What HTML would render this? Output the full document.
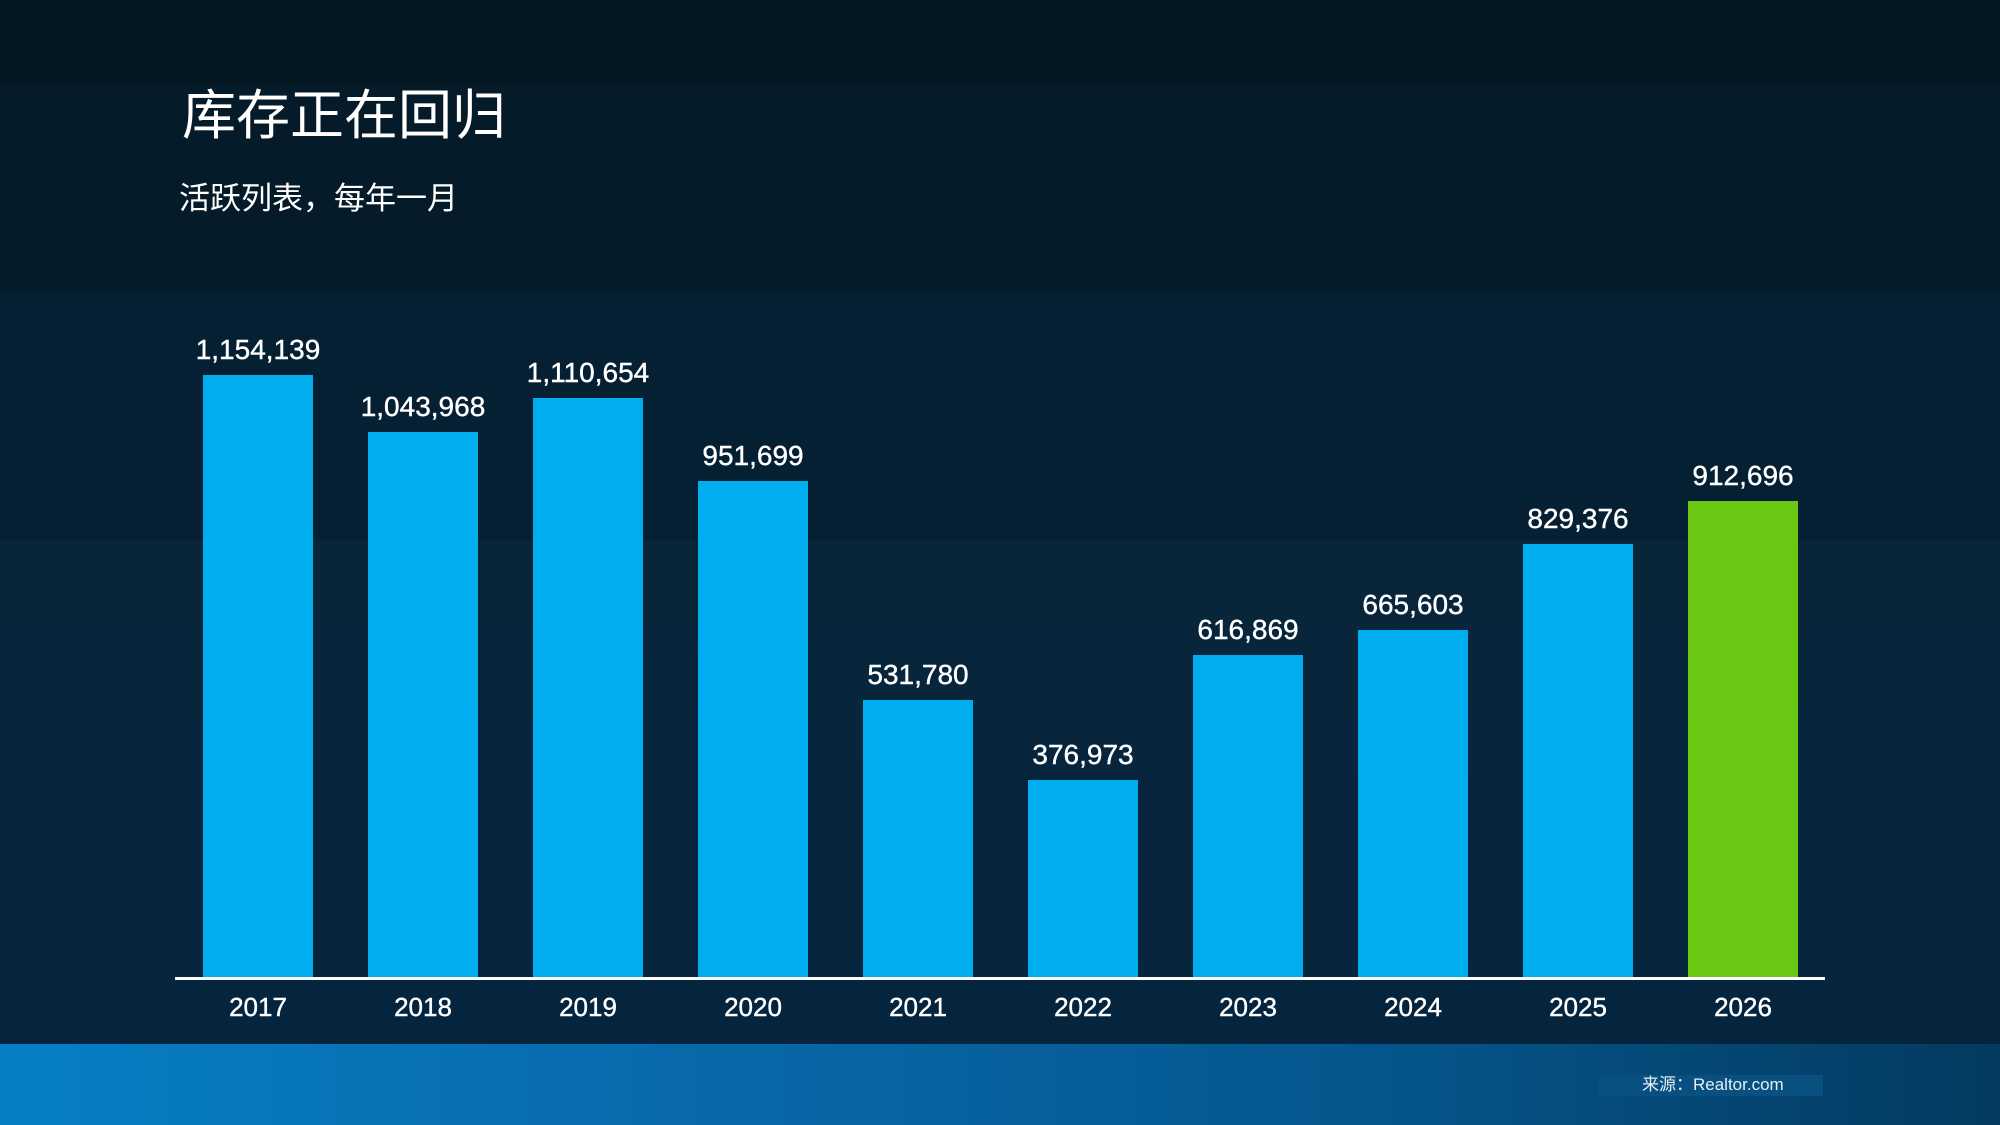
<!DOCTYPE html>
<html><head><meta charset="utf-8"><style>
body{margin:0;width:2000px;height:1125px;overflow:hidden;position:relative;background:#061b27;font-family:"Liberation Sans","Noto Sans CJK SC",sans-serif;}
div{position:absolute;}
.bar{background:#00aeef;width:110px;}
.v{color:#fff;font-size:28px;width:200px;text-align:center;-webkit-text-stroke:0.4px #fff;}
.y{color:#fff;font-size:26px;width:200px;text-align:center;top:992px;-webkit-text-stroke:0.4px #fff;}
</style></head><body>
<div style="left:0;top:0;width:2000px;height:85px;background:#051822"></div>
<div style="left:0;top:85px;width:2000px;height:208px;background:#061b29"></div>
<div style="left:0;top:293px;width:2000px;height:247px;background:#051f33"></div>
<div style="left:0;top:540px;width:2000px;height:504px;background:linear-gradient(#08253a,#05253e)"></div>
<div style="left:0;top:1044px;width:2000px;height:81px;background:linear-gradient(90deg,#077fc6 0%,#0866a6 40%,#05558b 70%,#043a5f 100%)"></div>
<div style="left:182px;top:76px;color:#fff;font-size:54px;font-family:'Noto Sans CJK SC',sans-serif;line-height:70px;">库存正在回归</div>
<div style="left:179px;top:176px;color:#fff;font-size:31px;font-family:'Noto Sans CJK SC',sans-serif;line-height:40px;">活跃列表，每年一月</div>
<div style="left:175px;top:977px;width:1650px;height:3px;background:#fff"></div>
<div id="c"></div>
<div style="left:1599px;top:1075px;width:224px;height:21px;background:#07507f"></div>
<div style="left:1642px;top:1073px;color:#e6eef5;font-size:17px;font-family:'Liberation Sans','Noto Sans CJK SC',sans-serif;line-height:24px;">来源：Realtor.com</div>
<script>
var d=[[2017,1154139],[2018,1043968],[2019,1110654],[2020,951699],[2021,531780],[2022,376973],[2023,616869],[2024,665603],[2025,829376],[2026,912696]];
var h='';
d.forEach(function(e,i){var x=203+i*165,hh=e[1]*602/1154139,t=977-hh;
h+='<div class="bar" style="left:'+x+'px;top:'+t+'px;height:'+hh+'px;'+(i==9?'background:#6bc812':'')+'"></div>';
h+='<div class="v" style="left:'+(x-45)+'px;top:'+(t-41)+'px">'+e[1].toLocaleString('en-US')+'</div>';
h+='<div class="y" style="left:'+(x-45)+'px">'+e[0]+'</div>';});
document.getElementById('c').outerHTML=h;
</script>
</body></html>
